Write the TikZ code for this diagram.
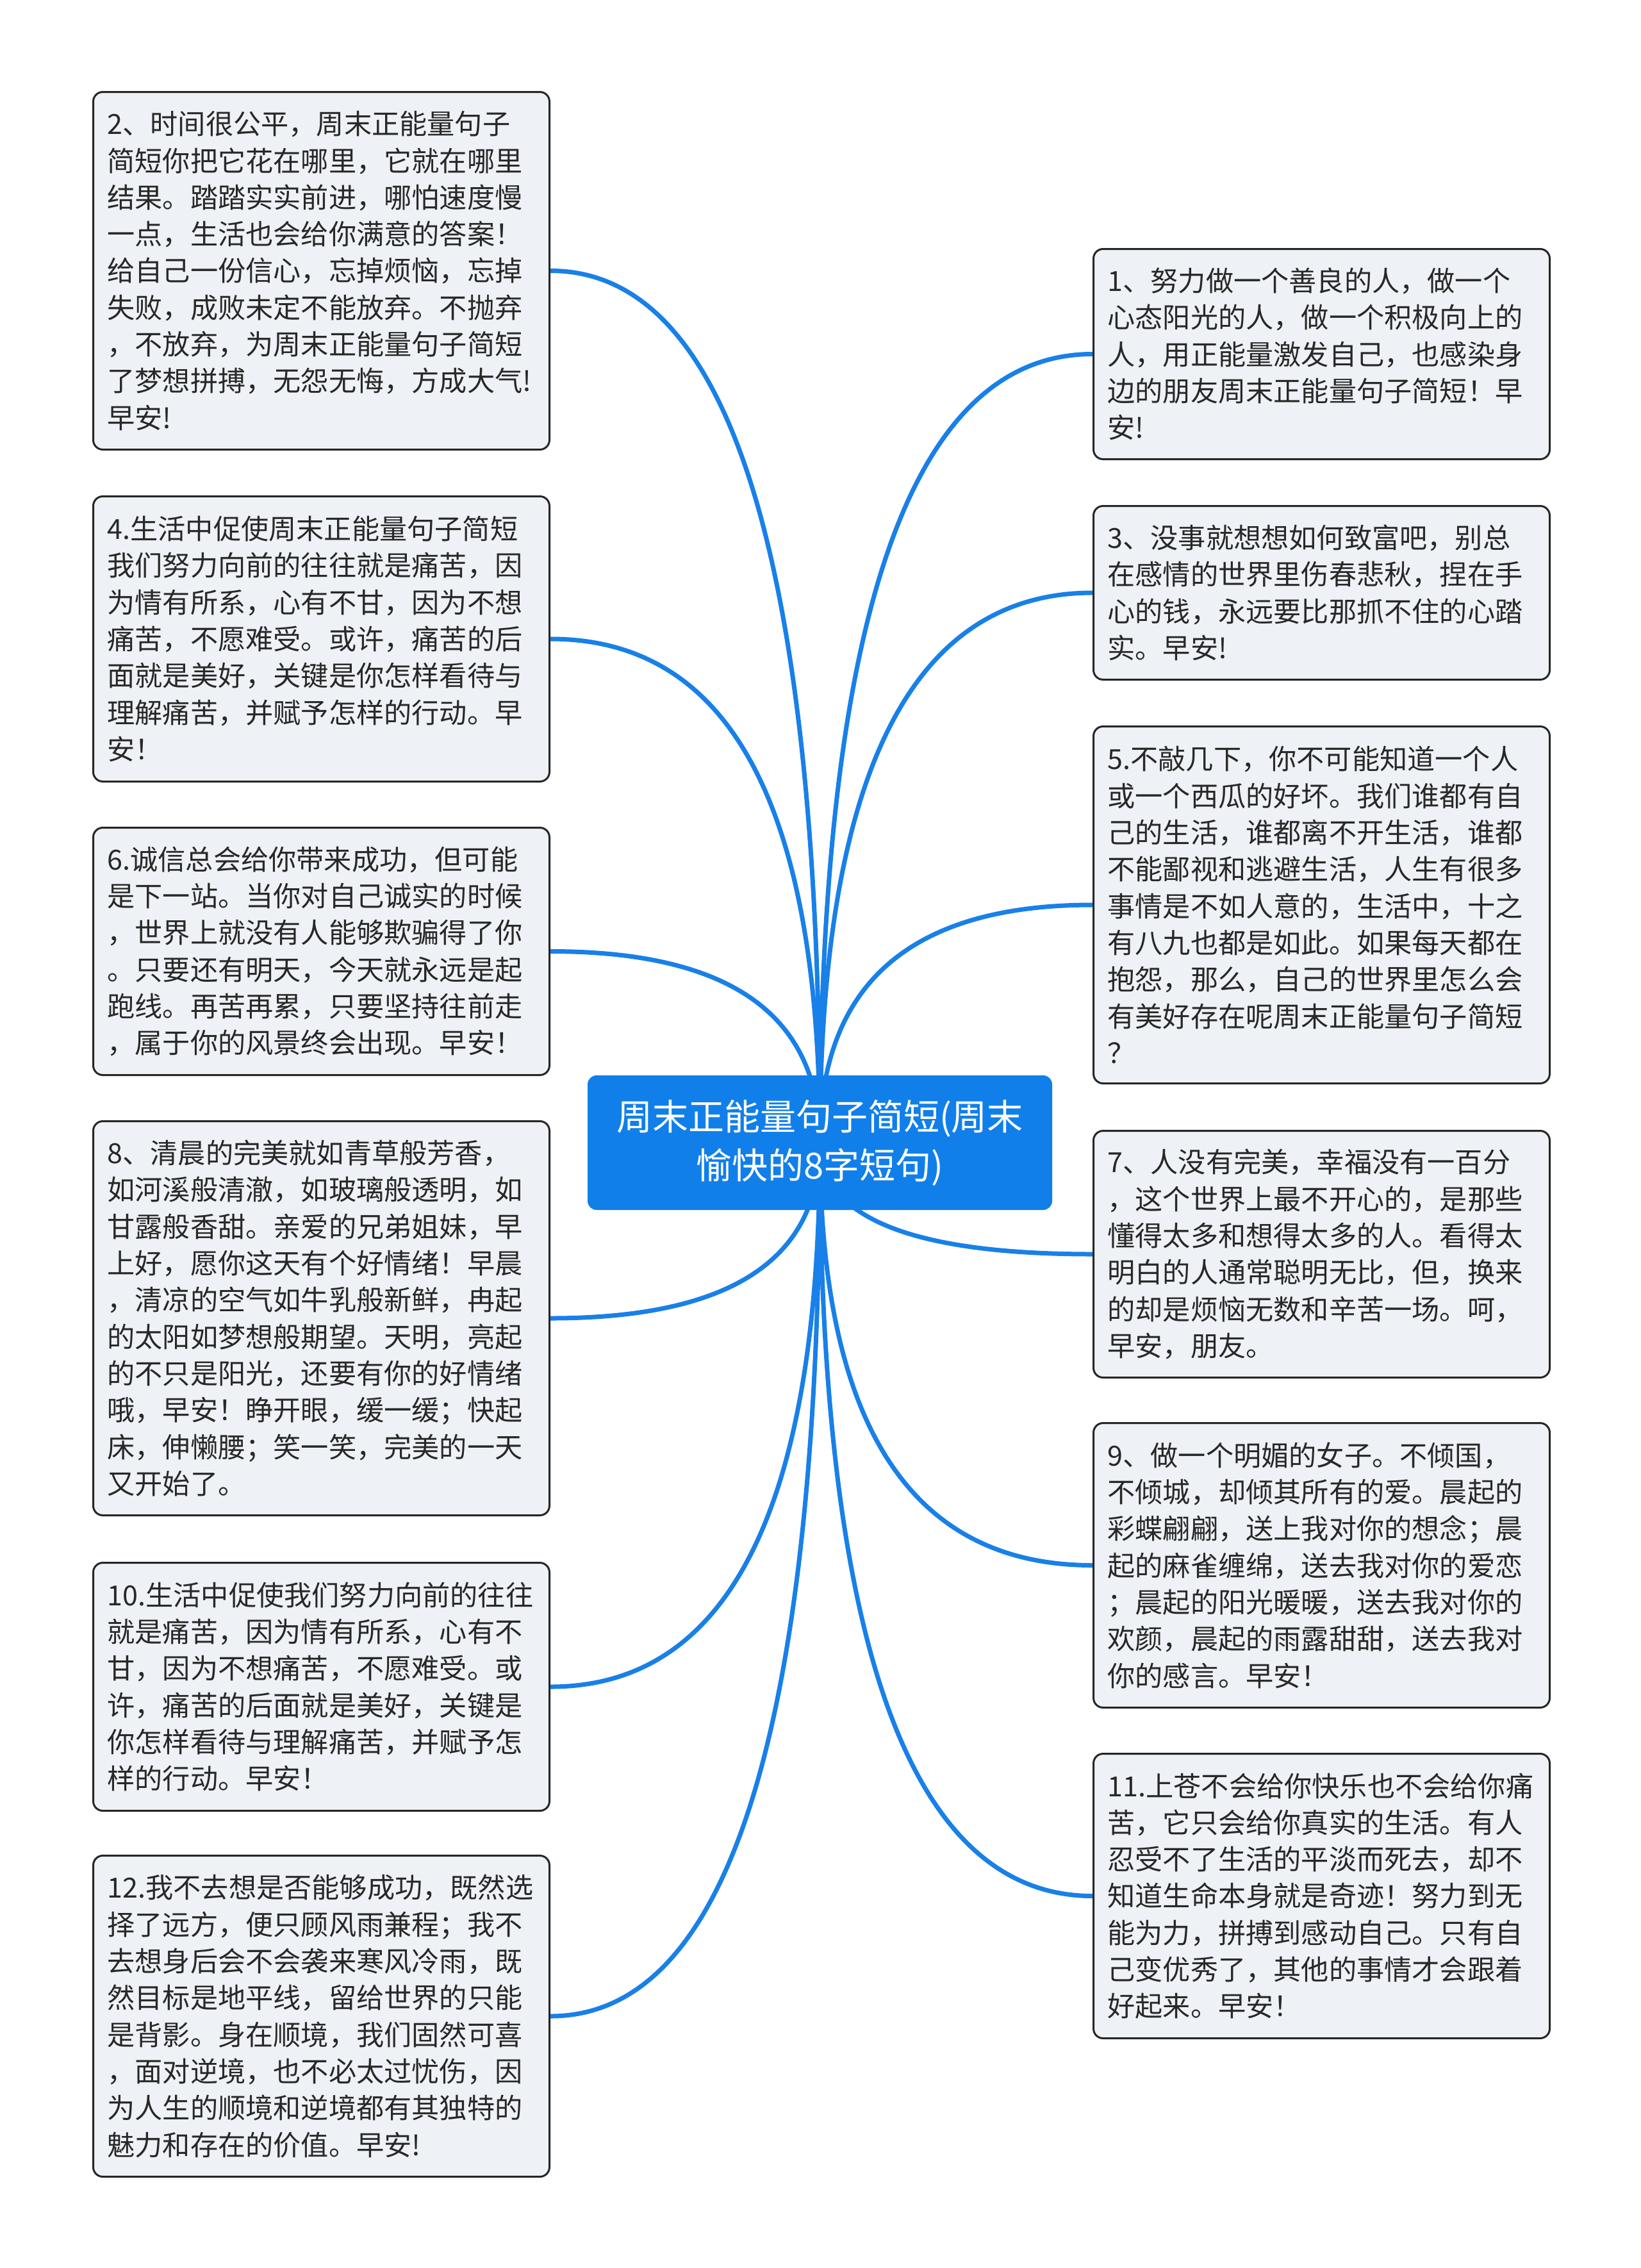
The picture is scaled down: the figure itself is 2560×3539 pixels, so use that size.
\documentclass[tikz,border=0pt]{standalone}
\usepackage{fontspec}
\setmainfont{Noto Sans CJK SC}
\usetikzlibrary{calc}
\definecolor{lnblue}{RGB}{24,128,232}
\definecolor{ctrblue}{RGB}{17,127,234}
\definecolor{boxfill}{RGB}{238,241,245}
\definecolor{boxline}{RGB}{38,38,38}
\definecolor{txt}{RGB}{40,40,40}
\pgfdeclarelayer{bg}
\pgfsetlayers{bg,main}
\begin{document}
\begin{tikzpicture}[x=0.5pt,y=-0.5pt,
  leaf/.style={draw=boxline, line width=1.5pt, fill=boxfill, rounded corners=7.5pt,
    text=txt, align=left, text width=334pt, inner xsep=11pt, inner ysep=0pt,
    minimum width=356pt, font=\fontsize{21.6}{28.65}\selectfont},
  leftleaf/.style={leaf, anchor=north west},
  rightleaf/.style={leaf, anchor=north west},
  root/.style={fill=ctrblue, draw=none, rounded corners=7pt, text=white, align=center,
    minimum width=362.5pt, minimum height=105pt, inner sep=0pt,
    font=\fontsize{28}{38}\selectfont},
  conn/.style={draw=lnblue, line width=3.5pt, line cap=round}]

\useasboundingbox (0,0) rectangle (2560,3539);

\node[root] (c) at (1279.5,1783) {周末正能量句子简短(周末\\愉快的8字短句)};

% left column
\node[leftleaf, minimum height=279pt] (n2) at (144,142) {2、时间很公平，周末正能量句子\\简短你把它花在哪里，它就在哪里\\结果。踏踏实实前进，哪怕速度慢\\一点，生活也会给你满意的答案！\\给自己一份信心，忘掉烦恼，忘掉\\失败，成败未定不能放弃。不抛弃\\，不放弃，为周末正能量句子简短\\了梦想拼搏，无怨无悔，方成大气!\\早安!};

\node[leftleaf, minimum height=222.5pt] (n4) at (144,773) {4.生活中促使周末正能量句子简短\\我们努力向前的往往就是痛苦，因\\为情有所系，心有不甘，因为不想\\痛苦，不愿难受。或许，痛苦的后\\面就是美好，关键是你怎样看待与\\理解痛苦，并赋予怎样的行动。早\\安！};

\node[leftleaf, minimum height=193pt] (n6) at (144,1290) {6.诚信总会给你带来成功，但可能\\是下一站。当你对自己诚实的时候\\，世界上就没有人能够欺骗得了你\\。只要还有明天，今天就永远是起\\跑线。再苦再累，只要坚持往前走\\，属于你的风景终会出现。早安！};

\node[leftleaf, minimum height=307.5pt] (n8) at (144,1748) {8、清晨的完美就如青草般芳香，\\如河溪般清澈，如玻璃般透明，如\\甘露般香甜。亲爱的兄弟姐妹，早\\上好，愿你这天有个好情绪！早晨\\，清凉的空气如牛乳般新鲜，冉起\\的太阳如梦想般期望。天明，亮起\\的不只是阳光，还要有你的好情绪\\哦，早安！睁开眼，缓一缓；快起\\床，伸懒腰；笑一笑，完美的一天\\又开始了。};

\node[leftleaf, minimum height=193.5pt] (n10) at (144,2437) {10.生活中促使我们努力向前的往往\\就是痛苦，因为情有所系，心有不\\甘，因为不想痛苦，不愿难受。或\\许，痛苦的后面就是美好，关键是\\你怎样看待与理解痛苦，并赋予怎\\样的行动。早安！};

\node[leftleaf, minimum height=250.5pt] (n12) at (144,2894) {12.我不去想是否能够成功，既然选\\择了远方，便只顾风雨兼程；我不\\去想身后会不会袭来寒风冷雨，既\\然目标是地平线，留给世界的只能\\是背影。身在顺境，我们固然可喜\\，面对逆境，也不必太过忧伤，因\\为人生的顺境和逆境都有其独特的\\魅力和存在的价值。早安!};

% right column
\node[rightleaf, minimum height=164pt] (n1) at (1705,387) {1、努力做一个善良的人，做一个\\心态阳光的人，做一个积极向上的\\人，用正能量激发自己，也感染身\\边的朋友周末正能量句子简短！早\\安!};

\node[rightleaf, minimum height=135.5pt] (n3) at (1705,788) {3、没事就想想如何致富吧，别总\\在感情的世界里伤春悲秋，捏在手\\心的钱，永远要比那抓不住的心踏\\实。早安!};

\node[rightleaf, minimum height=278.5pt] (n5) at (1705,1132) {5.不敲几下，你不可能知道一个人\\或一个西瓜的好坏。我们谁都有自\\己的生活，谁都离不开生活，谁都\\不能鄙视和逃避生活，人生有很多\\事情是不如人意的，生活中，十之\\有八九也都是如此。如果每天都在\\抱怨，那么，自己的世界里怎么会\\有美好存在呢周末正能量句子简短\\？};

\node[rightleaf, minimum height=192.5pt] (n7) at (1705,1763) {7、人没有完美，幸福没有一百分\\，这个世界上最不开心的，是那些\\懂得太多和想得太多的人。看得太\\明白的人通常聪明无比，但，换来\\的却是烦恼无数和辛苦一场。呵，\\早安，朋友。};

\node[rightleaf, minimum height=222pt] (n9) at (1705,2219) {9、做一个明媚的女子。不倾国，\\不倾城，却倾其所有的爱。晨起的\\彩蝶翩翩，送上我对你的想念；晨\\起的麻雀缠绵，送去我对你的爱恋\\；晨起的阳光暖暖，送去我对你的\\欢颜，晨起的雨露甜甜，送去我对\\你的感言。早安！};

\node[rightleaf, minimum height=222pt] (n11) at (1705,2735) {11.上苍不会给你快乐也不会给你痛\\苦，它只会给你真实的生活。有人\\忍受不了生活的平淡而死去，却不\\知道生命本身就是奇迹！努力到无\\能为力，拼搏到感动自己。只有自\\己变优秀了，其他的事情才会跟着\\好起来。早安！};

\begin{pgfonlayer}{bg}
\fill[white] (0,0) rectangle (2560,3539);
\foreach \t in {n2,n4,n6,n8,n10,n12} {
  \draw[conn] (c.center) .. controls ($(c.center)!0.667!(c.center |- \t.east)$)
    and ($(\t.east)!0.667!(c.center |- \t.east)$) .. (\t.east);
}
\foreach \t in {n1,n3,n5,n7,n9,n11} {
  \draw[conn] (c.center) .. controls ($(c.center)!0.667!(c.center |- \t.west)$)
    and ($(\t.west)!0.667!(c.center |- \t.west)$) .. (\t.west);
}
\end{pgfonlayer}
\end{tikzpicture}
\end{document}
